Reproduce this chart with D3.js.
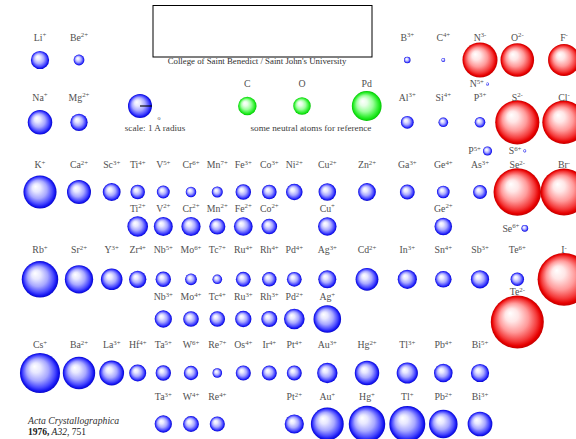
<!DOCTYPE html>
<html>
<head>
<meta charset="utf-8">
<script src="https://cdn.jsdelivr.net/npm/d3@7"></script>
<style>
  body { margin: 0; background: #fff; }
  svg { display: block; }
</style>
</head>
<body>
<script>
// Ionic radii in Å: [element, charge, periodic group, radius]
const period2 = [["Li","+",1,0.76],["Be","2+",2,0.45],["B","3+",13,0.27],["C","4+",14,0.16],["N","3-",15,1.46],["O","2-",16,1.40],["F","-",17,1.33]];
const period2Extra = [["N","5+",15,0.13]];
const period3 = [["Na","+",1,1.02],["Mg","2+",2,0.72],["Al","3+",13,0.535],["Si","4+",14,0.40],["P","3+",15,0.44],["S","2-",16,1.84],["Cl","-",17,1.81]];
const period3Extra = [["P","5+",15,0.38],["S","6+",16,0.12]];
const period4 = [["K","+",1,1.38],["Ca","2+",2,1.00],["Sc","3+",3,0.745],["Ti","4+",4,0.605],["V","5+",5,0.54],["Cr","6+",6,0.44],["Mn","7+",7,0.46],["Fe","3+",8,0.645],["Co","3+",9,0.61],["Ni","2+",10,0.69],["Cu","2+",11,0.73],["Zn","2+",12,0.74],["Ga","3+",13,0.62],["Ge","4+",14,0.53],["As","3+",15,0.58],["Se","2-",16,1.98],["Br","-",17,1.96]];
const period4Lower = [["Ti","2+",4,0.86],["V","2+",5,0.79],["Cr","2+",6,0.80],["Mn","2+",7,0.67],["Fe","2+",8,0.78],["Co","2+",9,0.65],["Cu","+",11,0.77],["Ge","2+",14,0.73]];
const period4Extra = [["Se","6+",16,0.28]];
const period5 = [["Rb","+",1,1.52],["Sr","2+",2,1.18],["Y","3+",3,0.90],["Zr","4+",4,0.72],["Nb","5+",5,0.64],["Mo","6+",6,0.49],["Tc","7+",7,0.40],["Ru","4+",8,0.62],["Rh","4+",9,0.60],["Pd","4+",10,0.615],["Ag","3+",11,0.75],["Cd","2+",12,0.95],["In","3+",13,0.80],["Sn","4+",14,0.69],["Sb","3+",15,0.76],["Te","6+",16,0.56],["I","-",17,2.20]];
const period5Lower = [["Nb","3+",5,0.72],["Mo","4+",6,0.65],["Tc","4+",7,0.645],["Ru","3+",8,0.68],["Rh","3+",9,0.665],["Pd","2+",10,0.86],["Ag","+",11,1.15]];
const period5Anion = [["Te","2-",16,2.21]];
const period6 = [["Cs","+",1,1.67],["Ba","2+",2,1.35],["La","3+",3,1.032],["Hf","4+",4,0.71],["Ta","5+",5,0.64],["W","6+",6,0.60],["Re","7+",7,0.40],["Os","4+",8,0.63],["Ir","4+",9,0.625],["Pt","4+",10,0.625],["Au","3+",11,0.85],["Hg","2+",12,1.02],["Tl","3+",13,0.885],["Pb","4+",14,0.775],["Bi","5+",15,0.76]];
const period6Lower = [["Ta","3+",5,0.72],["W","4+",6,0.66],["Re","4+",7,0.63],["Pt","2+",10,0.80],["Au","+",11,1.37],["Hg","+",12,1.52],["Tl","+",13,1.50],["Pb","2+",14,1.19],["Bi","3+",15,1.03]];
// Neutral atoms for comparison: [element, radius Å]
const neutralAtoms = [["C",0.77],["O",0.73],["Pd",1.24]];
const scaleRadiusA = 1.0;

const W = 576, H = 439;
const svg = d3.select("body").append("svg").attr("width", W).attr("height", H);
const serif = "'Liberation Serif','Times New Roman',serif";

// Gradients for shaded spheres
const defs = svg.append("defs");
function shade(id, stops) {
  const g = defs.append("radialGradient").attr("id", id)
    .attr("cx", 0.5).attr("cy", 0.5).attr("r", 0.5).attr("fx", 0.36).attr("fy", 0.33);
  stops.forEach(([o, c]) => g.append("stop").attr("offset", o).attr("stop-color", c));
}
shade("gBlue", [[0,"#ffffff"],[0.25,"#e8e8ff"],[0.55,"#a8a8ff"],[0.8,"#4a4aff"],[0.93,"#1414f0"],[1,"#0808c8"]]);
shade("gRed", [[0,"#ffffff"],[0.25,"#ffe6e6"],[0.55,"#ff9a9a"],[0.8,"#f43a3a"],[0.93,"#e60000"],[1,"#c40000"]]);
shade("gGreen", [[0,"#ffffff"],[0.25,"#e6ffe6"],[0.55,"#9cff9c"],[0.8,"#3af03a"],[0.93,"#10e010"],[1,"#00c000"]]);

// Scales: periodic group -> column centre, Å -> pixel radius, row -> vertical centre
const xGroup = d3.scaleLinear()
  .domain(d3.range(1, 18))
  .range([40,79,111.7,137.7,163.3,191,217.3,243.3,269.3,294.3,327.3,367,407.3,443.3,480,517.3,564]);
const rScale = d3.scaleLinear().domain([0, 1]).range([0, 12]);
const rowKeys = ["p2","p2x","p3","p3x","p4","p4b","p4x","p5","p5b","p5t","p6","p6b"];
const yRow = d3.scaleOrdinal().domain(rowKeys)
  .range([60, 84, 122.3, 151, 192, 226.5, 228.3, 279.3, 319, 322, 373, 424]);
const labelRow = d3.scaleOrdinal().domain(rowKeys)
  .range([37.5, 84, 97.5, 151, 165, 208.3, 228.3, 250, 296.7, 292, 345, 397]);

function label(g, x, y, sym, charge, anchor) {
  const t = g.append("text").attr("x", x).attr("y", y + 3.3)
    .attr("text-anchor", anchor).attr("font-family", serif)
    .attr("font-size", 9.8).attr("fill", "#505050");
  t.append("tspan").text(sym);
  if (charge) t.append("tspan").attr("dy", -3.4).attr("font-size", 6.8).text(charge);
  return t;
}

const fillOf = d => d[1].includes("-") ? "url(#gRed)" : "url(#gBlue)";

// Ions with label above the sphere
function drawStacked(data, row) {
  const g = svg.append("g");
  g.selectAll("circle").data(data).join("circle")
    .attr("cx", d => xGroup(d[2])).attr("cy", yRow(row))
    .attr("r", d => rScale(d[3])).attr("fill", fillOf);
  data.forEach(d => label(g, xGroup(d[2]), labelRow(row), d[0], d[1], "middle"));
}
// Ions with label set to the left of a small sphere
function drawInline(data, row) {
  const g = svg.append("g");
  g.selectAll("circle").data(data).join("circle")
    .attr("cx", d => xGroup(d[2]) + 7.5).attr("cy", yRow(row))
    .attr("r", d => Math.max(rScale(d[3]), 1.4)).attr("fill", fillOf);
  data.forEach(d => label(g, xGroup(d[2]) + 7.5 - Math.max(rScale(d[3]), 1.4) - 2, labelRow(row), d[0], d[1], "end"));
}

drawStacked(period2, "p2");
drawInline(period2Extra, "p2x");
drawStacked(period3, "p3");
drawInline(period3Extra, "p3x");
drawStacked(period4, "p4");
drawStacked(period4Lower, "p4b");
drawInline(period4Extra, "p4x");
drawStacked(period5, "p5");
drawStacked(period5Lower, "p5b");
drawStacked(period5Anion, "p5t");
drawStacked(period6, "p6");
drawStacked(period6Lower, "p6b");

// Neutral reference atoms
const xNeutral = d3.scaleOrdinal().domain(neutralAtoms.map(d => d[0])).range([247.3, 302, 366.7]);
const gN = svg.append("g");
gN.selectAll("circle").data(neutralAtoms).join("circle")
  .attr("cx", d => xNeutral(d[0])).attr("cy", 106)
  .attr("r", d => rScale(d[1])).attr("fill", "url(#gGreen)");
neutralAtoms.forEach(d => label(gN, xNeutral(d[0]), 83.3, d[0], "", "middle"));
gN.append("text").attr("x", 311).attr("y", 131).attr("text-anchor", "middle")
  .attr("font-family", serif).attr("font-size", 9.2).attr("fill", "#404040")
  .text("some neutral atoms for reference");

// Size key: a 1 Å sphere with its radius drawn
const keyX = 140, keyY = 106;
svg.append("circle").attr("cx", keyX).attr("cy", keyY).attr("r", rScale(scaleRadiusA)).attr("fill", "url(#gBlue)");
svg.append("line").attr("x1", keyX).attr("y1", keyY).attr("x2", keyX + rScale(scaleRadiusA)).attr("y2", keyY)
  .attr("stroke", "#000").attr("stroke-width", 1.1);
const keyText = svg.append("text").attr("x", 155).attr("y", 131).attr("text-anchor", "middle")
  .attr("font-family", serif).attr("font-size", 9.2).attr("fill", "#404040")
  .text("scale: 1 A radius");
const aBox = keyText.node().getExtentOfChar(9);
svg.append("text").attr("x", aBox.x + aBox.width / 2 + 1.5).attr("y", 120)
  .attr("text-anchor", "middle").attr("font-family", serif).attr("font-size", 6).attr("fill", "#404040")
  .text("o");

// Header box and institution line
svg.append("rect").attr("x", 153).attr("y", 5.5).attr("width", 219).attr("height", 51.5)
  .attr("fill", "#fff").attr("stroke", "#000").attr("stroke-width", 1);
svg.append("text").attr("x", 257).attr("y", 63.5).attr("text-anchor", "middle")
  .attr("font-family", serif).attr("font-size", 8.8).attr("fill", "#303030")
  .text("College of Saint Benedict / Saint John's University");

// Citation
svg.append("text").attr("x", 28).attr("y", 424).attr("font-family", serif)
  .attr("font-size", 9.7).attr("font-style", "italic").attr("fill", "#303030")
  .text("Acta Crystallographica");
const cite = svg.append("text").attr("x", 28).attr("y", 434.5).attr("font-family", serif)
  .attr("font-size", 9.5).attr("fill", "#202020");
cite.append("tspan").attr("font-weight", "bold").text("1976,");
cite.append("tspan").attr("font-style", "italic").text(" A32");
cite.append("tspan").text(", 751");
</script>
</body>
</html>
